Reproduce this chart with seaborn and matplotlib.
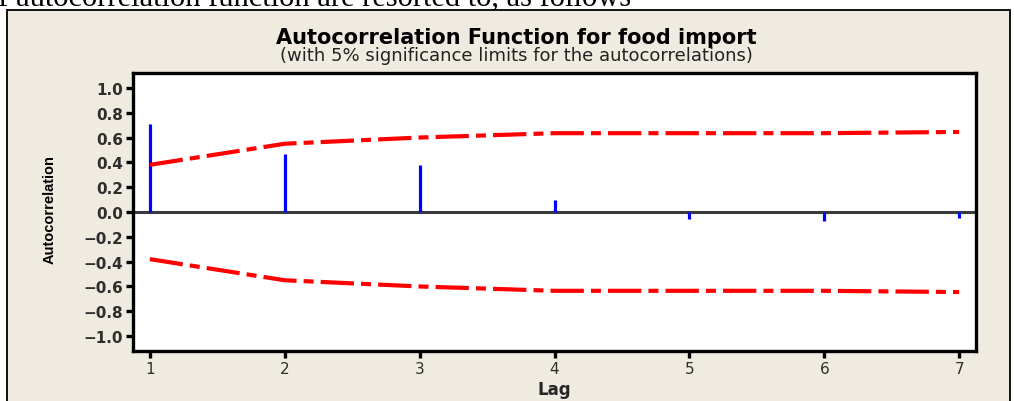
import numpy as np
import pandas as pd
import seaborn as sns
import matplotlib.pyplot as plt
from matplotlib.patches import Rectangle

# ACF values
lags = [1, 2, 3, 4, 5, 6, 7]
acf = [0.71, 0.47, 0.38, 0.10, -0.06, -0.07, -0.05]
upper = [0.38, 0.55, 0.60, 0.635, 0.635, 0.635, 0.645]
lower = [-0.38, -0.55, -0.60, -0.635, -0.635, -0.635, -0.645]
yticks = [1.0, 0.8, 0.6, 0.4, 0.2, 0.0, -0.2, -0.4, -0.6, -0.8, -1.0]

sns.set_theme(style='white')
plt.rcParams['font.family'] = ['DejaVu Sans']

W, H = 1014, 402
fig = plt.figure(figsize=(W / 100, H / 100), dpi=100)
fig.patch.set_facecolor('white')

# beige panel with black border, like the pasted Minitab graph
fig.patches.append(Rectangle((7 / W, -0.02), 1003 / W, (H - 11) / H + 0.02,
                             transform=fig.transFigure, facecolor='#efebe1',
                             edgecolor='black', lw=1.3, zorder=-1))

# sentence from the document, cut at the top
fig.text(-17 / W, 1 - 6 / H, 'of autocorrelation function are resorted to, as follows',
         family=['Liberation Serif', 'DejaVu Serif'], fontsize=22,
         va='baseline', ha='left', color='black', zorder=-2)

ax = fig.add_axes([133 / W, (H - 352) / H, (976 - 133) / W, (352 - 74) / H])
ax.set_facecolor('white')

df = pd.DataFrame({'Lag': lags, 'ACF': acf, 'upper': upper, 'lower': lower})

ax.axhline(0, color='#3a3a3a', lw=2.2, zorder=2)
ax.vlines(df['Lag'], 0, df['ACF'], color='#0000ff', lw=2.3, zorder=3)

dash = (0, (8, 1.7, 2.4, 1.7))
sns.lineplot(data=df, x='Lag', y='upper', ax=ax, color='#ff0000', lw=3, ls=dash, zorder=4)
sns.lineplot(data=df, x='Lag', y='lower', ax=ax, color='#ff0000', lw=3, ls=dash, zorder=4)

ax.set_xlim(0.875, 7.125)
ax.set_ylim(-1.12, 1.12)
ax.set_xticks(lags)
ax.set_xticklabels([str(l) for l in lags])
ax.set_yticks(yticks)
ax.set_yticklabels([f'{v:.1f}'.replace('-', '\u2212') for v in yticks])

for s in ax.spines.values():
    s.set_visible(True)
    s.set_color('black')
    s.set_linewidth(2.4)

ax.tick_params(axis='both', direction='out', length=5, width=2.4, color='black',
               labelsize=11, labelcolor='#2e2e2e', pad=2)
ax.tick_params(axis='x', bottom=True, top=False)
ax.tick_params(axis='y', left=True, right=False)
for lab in ax.get_yticklabels():
    lab.set_fontweight('bold')

ax.set_xlabel('Lag', fontsize=12, fontweight='bold', labelpad=3)
ax.set_ylabel('')
fig.text(50 / W, 1 - 210 / H, 'Autocorrelation', rotation=90, ha='center', va='center',
         family=['Liberation Sans Narrow', 'Liberation Sans', 'DejaVu Sans'],
         fontsize=10.5, fontweight='bold', color='black')

fig.text(516 / W, 1 - 38 / H, 'Autocorrelation Function for food import',
         ha='center', va='center', fontsize=15, fontweight='bold', color='black')
fig.text(516 / W, 1 - 56 / H, '(with 5% significance limits for the autocorrelations)',
         ha='center', va='center', fontsize=13, color='#222222')

fig.savefig('out.png', dpi=100, facecolor=fig.get_facecolor())
